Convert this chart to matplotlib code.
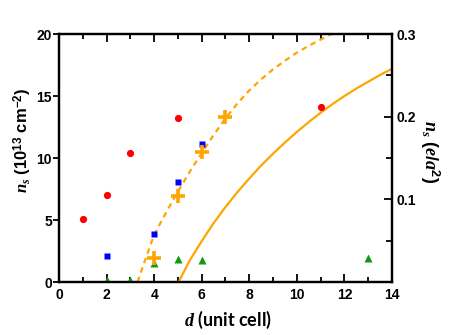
import numpy as np
import matplotlib
matplotlib.use('Agg')
import matplotlib.pyplot as plt
from matplotlib.ticker import MultipleLocator

# measured points
red_d = [1, 2, 3, 5, 11]
red_n = [5.08, 7.04, 10.4, 13.2, 14.15]
blue_d = [2, 4, 5, 6]
blue_n = [2.06, 3.9, 8.1, 11.1]
green_d = [2, 3, 4, 5, 6, 13]
green_n = [0.15, 0.15, 1.53, 1.85, 1.75, 1.94]
plus_d = [4, 5, 6, 7]
plus_n = [1.93, 6.9, 10.45, 13.3]

# curves
dash_d = [3.3, 3.5, 3.7, 4.0, 4.5, 5.0, 5.5, 6.0, 6.5, 7.0, 7.5, 8.0, 8.5,
          9.0, 9.5, 10.0, 10.5, 11.0, 11.46]
dash_n = [0.0, 1.1, 2.2, 3.8, 5.6, 7.3, 8.9, 10.4, 11.85, 13.2, 14.4, 15.45,
          16.35, 17.15, 17.85, 18.5, 19.05, 19.55, 20.0]
solid_d = [5.03, 5.5, 6.0, 6.5, 7.0, 7.5, 8.0, 8.5, 9.0, 9.5, 10.0, 10.5,
           11.0, 11.5, 12.0, 12.5, 13.0, 13.5, 14.0]
solid_n = [0.0, 1.75, 3.3, 4.75, 6.05, 7.25, 8.35, 9.4, 10.35, 11.25, 12.1,
           12.9, 13.65, 14.35, 15.0, 15.6, 16.15, 16.7, 17.2]

x_ticks = [0, 2, 4, 6, 8, 10, 12, 14]
left_ticks = [0, 5, 10, 15, 20]
right_ticks = [0.1, 0.2, 0.3]

plt.rcParams['mathtext.fontset'] = 'custom'
plt.rcParams['mathtext.rm'] = 'Liberation Sans:bold'
plt.rcParams['mathtext.bf'] = 'Liberation Sans:bold'
plt.rcParams['mathtext.it'] = 'Liberation Serif:italic:bold'

orange = '#ffa500'
W, H = 455, 335

fig = plt.figure(figsize=(4.55, 3.35), dpi=100)
ax = fig.add_axes([59 / W, 1 - 282 / H, 333 / W, 248 / H])

ax.plot(dash_d, dash_n, '--', color=orange, lw=1.6, dashes=(2.5, 2), zorder=2)
ax.plot(solid_d, solid_n, '-', color=orange, lw=1.6, zorder=2)
ax.plot(red_d, red_n, 'o', color='#ff0000', ms=5.2, mec='none', zorder=3)
ax.plot(blue_d, blue_n, 's', color='#0000ff', ms=4.6, mec='none', zorder=3)
ax.plot(green_d, green_n, '^', color='#119911', ms=5.5, mec='none', zorder=3)
ax.plot(plus_d, plus_n, '+', color=orange, ms=10, mew=2.6, zorder=4)

ax.set_xlim(0, 14)
ax.set_ylim(0, 20)
ax.set_xticks(x_ticks)
ax.set_yticks(left_ticks)
ax.xaxis.set_minor_locator(MultipleLocator(1))

for s in ax.spines.values():
    s.set_linewidth(1.6)

tick_font = dict(family='Liberation Sans', weight='bold', size=10)
ax.tick_params(axis='x', which='both', direction='in', top=True, width=1.3)
ax.tick_params(axis='x', which='major', length=6, pad=4)
ax.tick_params(axis='x', which='minor', length=3.5)
ax.tick_params(axis='y', which='major', direction='out', length=4, width=1.3, pad=1)
for lab in ax.get_xticklabels() + ax.get_yticklabels():
    lab.set_fontproperties(tick_font)

ax2 = ax.twinx()
ax2.set_ylim(0, 0.3)
ax2.set_yticks(right_ticks)
ax2.set_yticklabels(['0.1', '0.2', '0.3'])
ax2.yaxis.set_minor_locator(MultipleLocator(0.05))
ax2.tick_params(axis='y', which='both', direction='in', width=1.3)
ax2.tick_params(axis='y', which='major', length=6, pad=3)
ax2.tick_params(axis='y', which='minor', length=4)
for lab in ax2.get_yticklabels():
    lab.set_fontproperties(tick_font)
for s in ax2.spines.values():
    s.set_linewidth(1.6)

# axis titles placed in figure pixels
fig.text(228 / W, 1 - 320 / H, r'$d$ (unit cell)', family='Lato', weight='bold',
         size=13, ha='center', va='center')
fig.text(23 / W, 1 - 140 / H, r'$n_s$ (10$^{13}$ cm$^{-2}$)',
         family='Liberation Sans', weight='bold', size=12,
         rotation=90, ha='center', va='center')
fig.text(430 / W, 1 - 152 / H, r'$\mathit{n_s\ (e/a^2)}$', size=13,
         rotation=270, ha='center', va='center')

fig.savefig('out.png', dpi=100)
